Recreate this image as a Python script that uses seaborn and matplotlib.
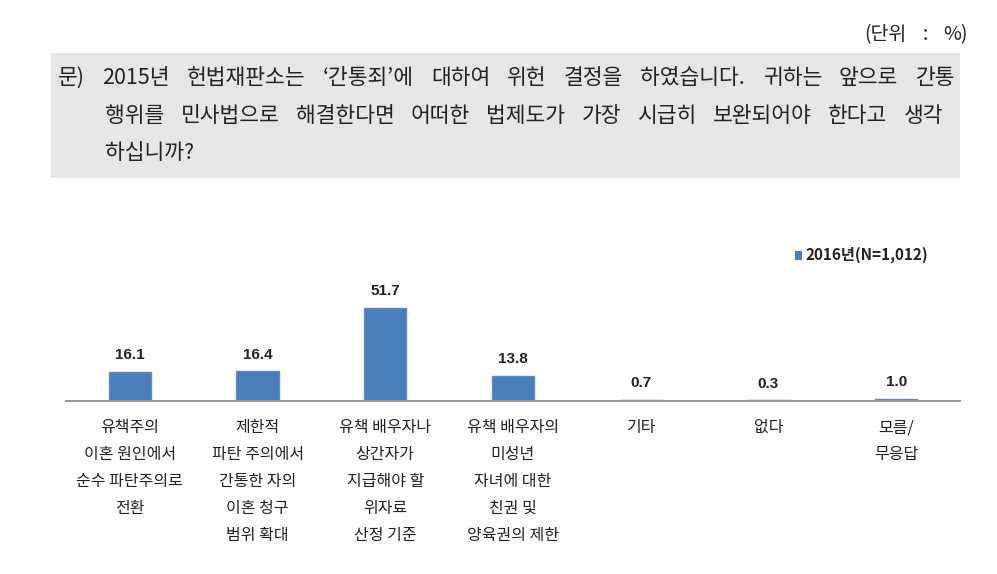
import matplotlib
matplotlib.use("Agg")
import matplotlib.pyplot as plt
import seaborn as sns
import pandas as pd
from matplotlib.patches import Rectangle

categories = [
    "유책주의\n이혼 원인에서\n순수 파탄주의로\n전환",
    "제한적\n파탄 주의에서\n간통한 자의\n이혼 청구\n범위 확대",
    "유책 배우자나\n상간자가\n지급해야 할\n위자료\n산정 기준",
    "유책 배우자의\n미성년\n자녀에 대한\n친권 및\n양육권의 제한",
    "기타",
    "없다",
    "모름/\n무응답",
]
values = [16.1, 16.4, 51.7, 13.8, 0.7, 0.3, 1.0]
value_labels = ["16.1", "16.4", "51.7", "13.8", "0.7", "0.3", "1.0"]
series_name = "2016년(N=1,012)"
question_lines = [
    "문) 2015년 헌법재판소는 ‘간통죄’에 대하여 위헌 결정을 하였습니다. 귀하는 앞으로 간통",
    "행위를 민사법으로 해결한다면 어떠한 법제도가 가장 시급히 보완되어야 한다고 생각",
    "하십니까?",
]
unit_text = "(단위 : %)"

sns.set_theme(style="white")
plt.rcParams["font.family"] = ["Noto Sans CJK KR", "DejaVu Sans"]

W, H = 997, 574
fig = plt.figure(figsize=(W / 100, H / 100), dpi=100)
renderer = fig.canvas.get_renderer()

# question box
fig.patches.append(Rectangle((51 / W, 1 - 178 / H), (960 - 51) / W, (178 - 53) / H,
                             transform=fig.transFigure, facecolor="#e6e6e6",
                             edgecolor="none", zorder=0))


def justified(line, x0, x1, y, size, justify=True):
    words = line.split(" ")
    texts = [fig.text(0, 1 - y / H, w, ha="left", va="center", fontsize=size, color="#222222")
             for w in words]
    widths = [t.get_window_extent(renderer).width for t in texts]
    if justify and len(words) > 1:
        gap = (x1 - x0 - sum(widths)) / (len(words) - 1)
    else:
        gap = 0.3 * size * 1.389
    x = x0
    for t, w in zip(texts, widths):
        t.set_x(x / W)
        x += w + gap


justified(unit_text, 864, 968, 35, 14)
justified(question_lines[0], 58, 955, 78, 15.5)
justified(question_lines[1], 105, 943, 116, 15.5)
justified(question_lines[2], 105, 943, 153, 15.5, justify=False)

ax_bottom = 401
ax_top = 230
ax = fig.add_axes([66 / W, 1 - ax_bottom / H, (960 - 66) / W, (ax_bottom - ax_top) / H])
df = pd.DataFrame({"cat": categories, "val": values})
colors = ["#4a7ebb"] * 4 + ["#7f8fae"] * 3
sns.barplot(data=df, x="cat", y="val", hue="cat", palette=colors, legend=False,
            width=0.33, ax=ax, saturation=1, edgecolor="#6f86b0", linewidth=1)
ax.set_ylim(0, (ax_bottom - ax_top) / 1.8)
ax.set_xlim(-0.5, len(categories) - 0.5)
for i, (v, lab) in enumerate(zip(values, value_labels)):
    ax.annotate(lab, (i, v), xytext=(0, 7), textcoords="offset points",
                ha="center", va="bottom", fontsize=11, fontweight="bold",
                family=["Liberation Sans", "DejaVu Sans"], color="#222222")

ax.set_xlabel("")
ax.set_ylabel("")
ax.set_yticks([])
for s in ["top", "left", "right"]:
    ax.spines[s].set_visible(False)
ax.spines["bottom"].set_color("#999999")
ax.spines["bottom"].set_linewidth(1.5)
ax.tick_params(axis="x", length=0, pad=13)
ax.set_xticks(range(len(categories)))
ax.set_xticklabels(categories, fontsize=11.5, linespacing=1.77, va="top", color="#222222")

# legend
fig.patches.append(Rectangle((795 / W, 1 - 260 / H), 7 / W, 9 / H, transform=fig.transFigure,
                             facecolor="#4a7ebb", edgecolor="none"))
fig.text(805 / W, 1 - 255 / H, series_name, ha="left", va="center", fontsize=11,
         fontweight="bold", color="#222222")

fig.savefig("out.png", dpi=100)
